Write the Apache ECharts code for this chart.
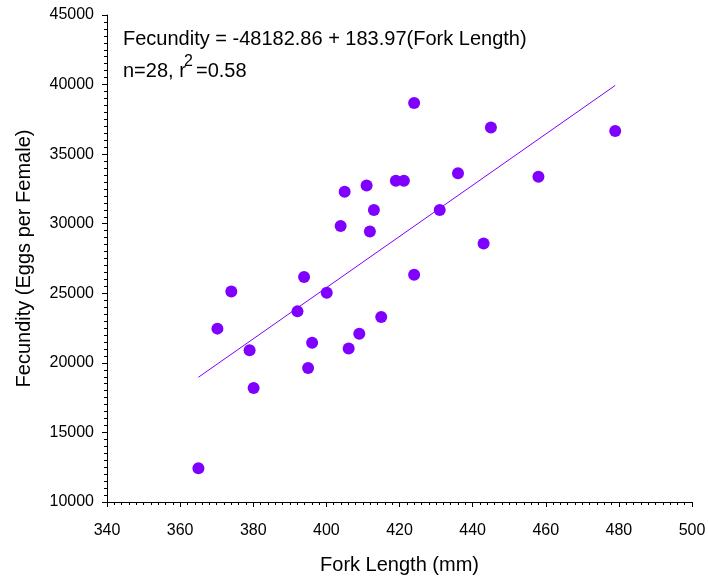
<!DOCTYPE html>
<html>
<head>
<meta charset="utf-8">
<script src="https://cdn.jsdelivr.net/npm/echarts@6/dist/echarts.min.js"></script>
<style>
html,body{margin:0;padding:0;background:#fff;}
#chart{width:708px;height:577px;}
</style>
</head>
<body>
<div id="chart"></div>
<script>
// Data
const forkLength = [365, 370.2, 374, 379, 380.1, 392.1, 393.9, 395, 396.1, 400.1, 403.9, 405, 406.1, 409, 411, 411.9, 413, 415, 419, 421.2, 424, 424, 431, 436, 443, 445, 458, 479];
const fecundity = [12430, 22460, 25130, 20900, 18200, 23700, 26170, 19630, 21450, 25040, 29830, 32290, 21040, 22100, 32740, 29440, 30980, 23300, 33080, 33080, 38680, 26330, 30980, 33630, 28580, 36910, 33370, 36670];
const intercept = -48182.86;
const slope = 183.97;
const eqText = 'Fecundity = -48182.86 + 183.97(Fork Length)';
const statPre = 'n=28, r';
const statSup = '2';
const statPost = '=0.58';
const xTitle = 'Fork Length (mm)';
const yTitle = 'Fecundity (Eggs per Female)';

const points = forkLength.map((x, i) => [x, fecundity[i]]);
const xMin = Math.min(...forkLength), xMax = Math.max(...forkLength);
const fitLine = [[xMin, intercept + slope * xMin], [xMax, intercept + slope * xMax]];

const purple = '#8000ff';
const font = 'Liberation Sans, Arial, sans-serif';

const chart = echarts.init(document.getElementById('chart'), null, {renderer: 'canvas'});
chart.setOption({
  animation: false,
  backgroundColor: '#fff',
  grid: {left: 107, top: 15, right: 16, bottom: 75, containLabel: false, outerBoundsMode: 'none'},
  xAxis: {
    type: 'value', min: 340, max: 500, interval: 20,
    name: xTitle, nameLocation: 'middle', nameGap: 53,
    nameTextStyle: {color: '#000', fontSize: 20, fontFamily: font},
    axisLine: {show: true, onZero: false, lineStyle: {color: '#000', width: 1}},
    axisTick: {show: true, inside: false, length: 5, lineStyle: {color: '#000'}},
    minorTick: {show: true, splitNumber: 10, length: 3, lineStyle: {color: '#000'}},
    axisLabel: {color: '#000', fontSize: 16, fontFamily: font, margin: 21},
    splitLine: {show: false}
  },
  yAxis: {
    type: 'value', min: 10000, max: 45000, interval: 5000,
    name: yTitle, nameLocation: 'middle', nameGap: 73, nameRotate: 90,
    nameTextStyle: {color: '#000', fontSize: 20, fontFamily: font},
    axisLine: {show: true, onZero: false, lineStyle: {color: '#000', width: 1}},
    axisTick: {show: true, inside: false, length: 5, lineStyle: {color: '#000'}},
    minorTick: {show: true, splitNumber: 10, length: 3, lineStyle: {color: '#000'}},
    axisLabel: {color: '#000', fontSize: 16, fontFamily: font, margin: 13, formatter: v => String(v)},
    splitLine: {show: false}
  },
  series: [
    {
      type: 'line', data: fitLine, showSymbol: false, symbol: 'none',
      lineStyle: {color: purple, width: 1}, z: 2, silent: true
    },
    {
      type: 'scatter', data: points, symbol: 'circle', symbolSize: 12,
      itemStyle: {color: purple, opacity: 1}, z: 3
    }
  ],
  graphic: [
    {type: 'text', left: 123, top: 29, style: {text: eqText, fill: '#000', fontSize: 20, fontFamily: font}},
    {type: 'text', left: 123, top: 61, style: {text: statPre, fill: '#000', fontSize: 20, fontFamily: font}},
    {type: 'text', left: 184, top: 54, style: {text: statSup, fill: '#000', fontSize: 16, fontFamily: font}},
    {type: 'text', left: 196, top: 61, style: {text: statPost, fill: '#000', fontSize: 20, fontFamily: font}}
  ]
});
</script>
</body>
</html>
